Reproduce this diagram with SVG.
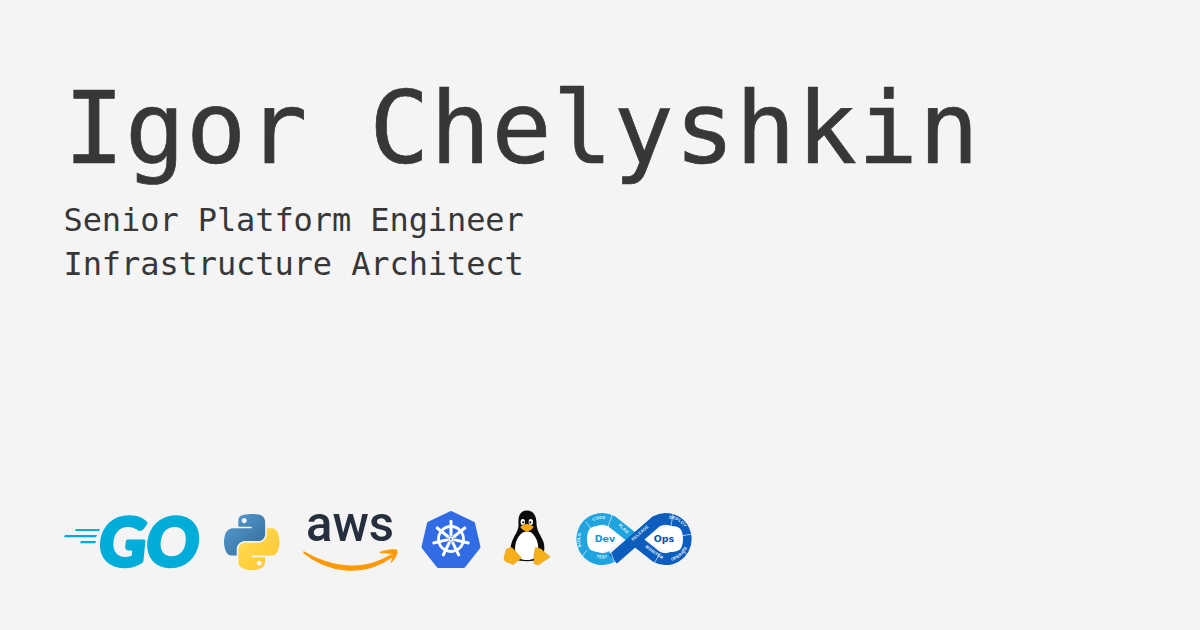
<svg xmlns="http://www.w3.org/2000/svg" width="1200" height="630" viewBox="0 0 1200 630">
<style>
.t{font-family:"DejaVu Sans Mono","Liberation Mono",monospace;fill:#373737}
.s{font-size:32px;letter-spacing:-0.09px}
.go{fill:#00ADD8}
.lbl{font-family:"Liberation Sans",Arial,sans-serif;font-size:4.2px;font-weight:700;fill:#e8f4fb;letter-spacing:.2px}
</style>
<defs>
<linearGradient id="pb" x1="0" y1="0" x2="1" y2="1"><stop offset="0" stop-color="#5A9FD4"/><stop offset="1" stop-color="#306998"/></linearGradient>
<linearGradient id="py" x1="0" y1="0" x2="1" y2="1"><stop offset="0" stop-color="#FFE052"/><stop offset="1" stop-color="#FFC331"/></linearGradient>
<path id="arcTop" d="M583 535A19 19 0 0 1 619 530" fill="none"/>
<path id="arcBuild" d="M584 552A20 20 0 0 1 584 528" fill="none"/>
<path id="arcTest" d="M588 553A21 21 0 0 0 616 553" fill="none"/>
<path id="arcPlan" d="M617 524L628 535" fill="none"/>
<path id="lnRel" d="M631 543L651 525" fill="none"/>
<path id="arcDep" d="M663 519A20 20 0 0 1 687 533" fill="none"/>
<path id="arcOp" d="M669 561A22 22 0 0 0 688 545" fill="none"/>
<path id="lnMon" d="M643 546L664 561" fill="none"/>
<rect id="spoke" x="-1.500" y="-19" width="3" height="16" rx="1"/>
</defs>
<rect width="1200" height="630" fill="#f4f4f4"/>
<text class="t" x="64" y="163" font-size="100" textLength="915" lengthAdjust="spacing" stroke="#373737" stroke-width=".7">Igor Chelyshkin</text>
<text class="t s" x="63.500" y="231">Senior Platform Engineer</text>
<text class="t s" x="63.500" y="274.500">Infrastructure Architect</text>

<g id="logo-go">
<path class="go" d="M76 529h24l-1 2H75zM65 535h32l-1 2.200H64zM81 541h15l-.8 2.200H80z"/>
<text transform="translate(97 565.500) skewX(-6)" font-family="Lato,sans-serif" font-weight="900" font-size="67" textLength="100" lengthAdjust="spacingAndGlyphs" fill="#00ADD8" stroke="#00ADD8" stroke-width="3.500" stroke-linejoin="round">GO</text>
</g>

<g id="logo-python" transform="translate(224 514) scale(.5)">
<path fill="url(#pb)" d="M54.919 0C50.335.022 45.958.413 42.106 1.095 30.76 3.099 28.7 7.295 28.7 15.032V25.25h26.813v3.406H18.638c-7.793 0-14.616 4.684-16.75 13.594-2.462 10.213-2.571 16.586 0 27.25 1.906 7.938 6.457 13.594 14.25 13.594h9.219v-12.25c0-8.85 7.657-16.656 16.75-16.656h26.781c7.455 0 13.406-6.138 13.406-13.625v-25.531c0-7.266-6.13-12.725-13.406-13.937C64.282.328 59.502-.02 54.919 0zM40.419 8.219c2.77 0 5.031 2.299 5.031 5.125 0 2.816-2.262 5.094-5.031 5.094-2.779 0-5.031-2.277-5.031-5.094 0-2.826 2.252-5.125 5.031-5.125z"/>
<path fill="url(#py)" d="M85.638 28.656v11.906c0 9.231-7.826 17-16.75 17H42.106c-7.336 0-13.406 6.279-13.406 13.625v25.531c0 7.266 6.319 11.54 13.406 13.625 8.487 2.496 16.626 2.947 26.781 0 6.75-1.954 13.406-5.888 13.406-13.625V86.5H55.513v-3.405H95.7c7.793 0 10.696-5.436 13.406-13.594 2.8-8.399 2.68-16.476 0-27.25-1.926-7.757-5.604-13.594-13.406-13.594H85.638zM70.575 93.313c2.779 0 5.031 2.277 5.031 5.094 0 2.826-2.252 5.125-5.031 5.125-2.77 0-5.031-2.299-5.031-5.125 0-2.816 2.262-5.094 5.031-5.094z"/>
</g>

<g id="logo-aws">
<text x="306" y="541" font-family="Roboto,sans-serif" font-size="50" font-weight="500" textLength="88" lengthAdjust="spacingAndGlyphs" fill="#252F3E">aws</text>
<path d="M304 552C330 567 362 573 391 555L392 557C362 578 328 572 304 553Z" fill="#F90" stroke="#F90" stroke-width="1.200"/>
<path d="M380 552C386 550 393 549 397 550C398 554 395 559 391 563C392 559 393 556 392 554C389 553 384 553 380 553Z" fill="#F90" stroke="#F90" stroke-width=".5"/>
</g>

<g id="logo-kubernetes">
<path d="M451 513L473 523.500L478.500 547L463.500 566H438.500L423.500 547L429 523.500Z" fill="#326CE5" stroke="#326CE5" stroke-width="4" stroke-linejoin="round"/>
<g fill="#fff" transform="translate(451 539)">
<circle r="12.500" fill="none" stroke="#fff" stroke-width="2.800"/>
<circle r="2.800"/>
<use href="#spoke"/><use href="#spoke" transform="rotate(51.43)"/><use href="#spoke" transform="rotate(102.86)"/><use href="#spoke" transform="rotate(154.29)"/><use href="#spoke" transform="rotate(205.71)"/><use href="#spoke" transform="rotate(257.14)"/><use href="#spoke" transform="rotate(308.57)"/>
<circle r="1" fill="#326CE5"/>
</g>
</g>

<g id="logo-linux">
<path d="M527 510.500C520 510.500 518 516 518.500 524C519 531 514 535 511.500 543C509.500 550 510.500 556 515 559C520 562 534 562 539 559C544 556 545.500 549 543.500 542C541 535 536.500 531 536.500 523C536.500 516 533.500 510.500 527 510.500Z" fill="#0c0c0c"/>
<path d="M522 533C516 538 514 546 515.500 553C517 559 522 560 527 560C533 560 537 558 538 552C539 545 537 538 532 533C529 531 525 531 522 533Z" fill="#fff"/>
<ellipse cx="522.800" cy="522" rx="2.200" ry="3" fill="#fff"/><ellipse cx="530.800" cy="522" rx="2.200" ry="3" fill="#fff"/>
<circle cx="523.200" cy="522.300" r="1.100" fill="#111"/><circle cx="530.300" cy="522.300" r="1.100" fill="#111"/>
<path d="M526.500 524C529 524 533 526 533.500 527C533 529 529 531.500 527 531.500C525 531.500 521 529 520.500 527C521 526 524 524 526.500 524Z" fill="#F5A80E"/>
<path d="M504 558L506.500 549L512 547.500L521.500 558L513 564.500L505 561Z" fill="#F5B01A" stroke="#E39A0C" stroke-width=".6" stroke-linejoin="round"/>
<path d="M534 555L535.500 547.500L541 549L550 557L538 565L534 563.500Z" fill="#F5B01A" stroke="#E39A0C" stroke-width=".6" stroke-linejoin="round"/>
</g>

<g id="logo-devops">
<path d="M634 539L612 521.500A20 20 0 1 0 612 556.500" fill="none" stroke="#1FA4DF" stroke-width="12"/>
<path d="M613 559L656 521.500A20 20 0 1 1 656 556.500L634 539" fill="none" stroke="#0C5DBD" stroke-width="12"/>
<path d="M590 528.500C595 525 603 525.500 610 529L623 539L610 549C603 552.500 595 553 590 549.500C586 545 586 533 590 528.500Z" fill="#fff"/>
<path d="M680 528.500C675 525 668 525.500 660 529L647 539L660 549C668 552.500 675 553 680 549.500C684 545 684 533 680 528.500Z" fill="#fff"/>
<g stroke="#e8f4fb" stroke-width=".7"><path d="M586 522L591 529M612 515L608 527M587 550L581 558M610 550L614 561M673 514L671 526M692 534L681 536M682 549L688 556M660 553L655 562"/></g>
<text x="605" y="542" text-anchor="middle" font-family="DejaVu Sans,sans-serif" font-size="9.500" font-weight="700" fill="#1c8fd0">Dev</text>
<text x="664" y="542" text-anchor="middle" font-family="DejaVu Sans,sans-serif" font-size="9.500" font-weight="700" fill="#0c4ea6">Ops</text>
<text class="lbl"><textPath href="#arcTop" startOffset="50%" text-anchor="middle">CODE</textPath></text>
<text class="lbl"><textPath href="#arcPlan" startOffset="50%" text-anchor="middle">PLAN</textPath></text>
<text class="lbl"><textPath href="#arcBuild" startOffset="50%" text-anchor="middle">BUILD</textPath></text>
<text class="lbl"><textPath href="#arcTest" startOffset="50%" text-anchor="middle">TEST</textPath></text>
<text class="lbl"><textPath href="#lnRel" startOffset="50%" text-anchor="middle">RELEASE</textPath></text>
<text class="lbl"><textPath href="#arcDep" startOffset="50%" text-anchor="middle">DEPLOY</textPath></text>
<text class="lbl"><textPath href="#arcOp" startOffset="50%" text-anchor="middle">OPERATE</textPath></text>
<text class="lbl"><textPath href="#lnMon" startOffset="50%" text-anchor="middle">MONITOR</textPath></text>
</g>
</svg>
